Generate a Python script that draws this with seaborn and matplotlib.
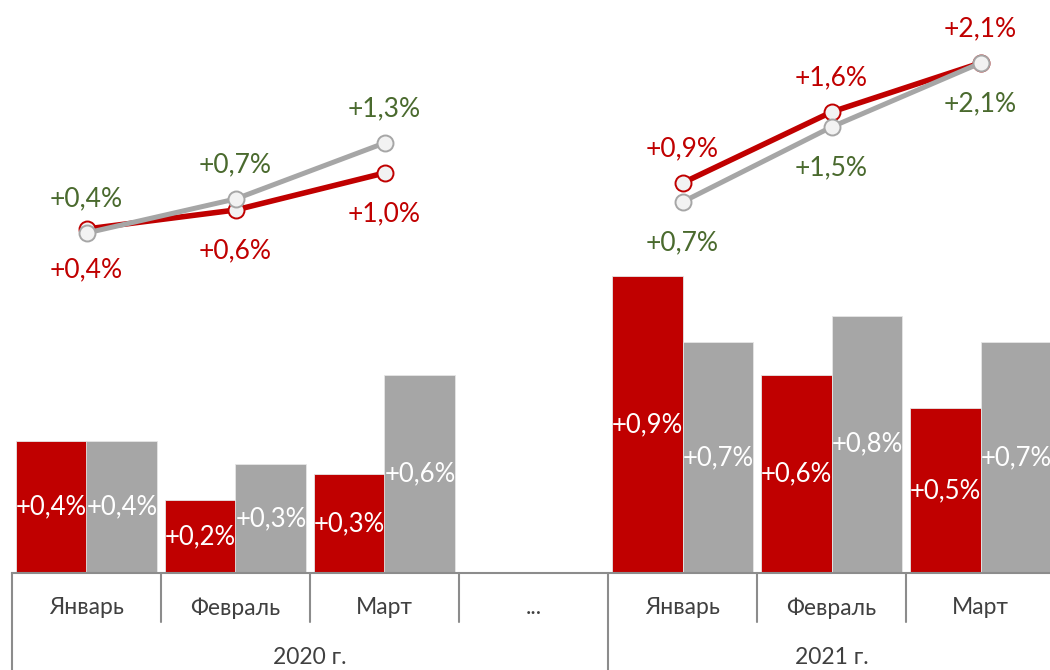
import numpy as np
import pandas as pd
import seaborn as sns
import matplotlib.pyplot as plt
from matplotlib import transforms

# slots along the x axis (the '...' slot separates the two years)
slots = ['2020-01', '2020-02', '2020-03', 'gap', '2021-01', '2021-02', '2021-03']
months = ['Январь', 'Февраль', 'Март', '...', 'Январь', 'Февраль', 'Март']
slot_year = ['2020 г.', '2020 г.', '2020 г.', '2020 г.', '2021 г.', '2021 г.', '2021 г.']

# monthly change (bars)
bar_red = [0.40, 0.22, 0.30, np.nan, 0.90, 0.60, 0.50]
bar_grey = [0.40, 0.33, 0.60, np.nan, 0.70, 0.78, 0.70]
bar_red_lbl = ['+0,4%', '+0,2%', '+0,3%', '', '+0,9%', '+0,6%', '+0,5%']
bar_grey_lbl = ['+0,4%', '+0,3%', '+0,6%', '', '+0,7%', '+0,8%', '+0,7%']

# cumulative change since start of year (lines)
cum_red = [0.44, 0.63, 1.00, np.nan, 0.90, 1.61, 2.10]
cum_grey = [0.40, 0.74, 1.30, np.nan, 0.71, 1.46, 2.10]
cum_red_lbl = ['+0,4%', '+0,6%', '+1,0%', '', '+0,9%', '+1,6%', '+2,1%']
cum_grey_lbl = ['+0,4%', '+0,7%', '+1,3%', '', '+0,7%', '+1,5%', '+2,1%']
label_above = ['grey', 'grey', 'grey', None, 'red', 'red', 'red']

RED = '#C00000'
GREY = '#A6A6A6'
GREEN = '#4A6A2E'
TXT = '#404040'
RULE = '#8C8C8C'

sns.set_style('white')
plt.rcParams['font.family'] = ['Lato', 'DejaVu Sans']

bars = pd.DataFrame({
  'slot': slots * 2,
  'value': bar_red + bar_grey,
  'series': ['red'] * len(slots) + ['grey'] * len(slots),
})
pos = list(range(len(slots)))
lines = pd.DataFrame({
  'pos': pos * 2,
  'value': cum_red + cum_grey,
  'series': ['red'] * len(slots) + ['grey'] * len(slots),
  'year': slot_year * 2,
}).dropna()

W, H = 1050, 670
fig = plt.figure(figsize=(W / 100, H / 100), dpi=100)
ax = fig.add_axes([12 / W, 97 / H, 1043 / W, 573 / H])

sns.barplot(data=bars, x='slot', y='value', hue='series', order=slots,
            hue_order=['red', 'grey'], palette={'red': RED, 'grey': GREY},
            width=0.95, saturation=1, legend=False, ax=ax,
            edgecolor='#E6E6E6', linewidth=0.6)

for cont, lbls in zip(ax.containers, [bar_red_lbl, bar_grey_lbl]):
  texts = [lbls[int(round(p.get_x() + p.get_width() / 2))] for p in cont]
  ax.bar_label(cont, labels=texts, label_type='center', color='white', fontsize=18.5)

ax2 = ax.twinx()
for name, colour, lw in [('red', RED, 4.0), ('grey', GREY, 3.6)]:
  sns.lineplot(data=lines[lines['series'] == name], x='pos', y='value',
               units='year', estimator=None, color=colour, lw=lw,
               marker='o', markersize=11.5, markerfacecolor='#F2F2F2',
               markeredgecolor=colour, markeredgewidth=1.4, ax=ax2, legend=False)

for name, vals, lbls, colour in [('red', cum_red, cum_red_lbl, RED),
                                 ('grey', cum_grey, cum_grey_lbl, GREEN)]:
  for i, (v, t) in enumerate(zip(vals, lbls)):
    if np.isnan(v): continue
    dy = 24.5 if label_above[i] == name else -29.5
    ax2.annotate(t, (i, v), xytext=(0, dy), textcoords='offset points',
                 ha='center', va='center', fontsize=19, color=colour)

ax.set_xlim(-0.5, len(slots) - 0.5)
ax.set_ylim(0, 573 / 330)
ax2.set_ylim(-3.0, 2.73)

for a in (ax, ax2):
  a.set_xlabel('')
  a.set_ylabel('')
  a.set_yticks([])
  a.set_xticks([])
  for s in a.spines.values():
    s.set_visible(False)
ax.spines['bottom'].set_visible(True)
ax.spines['bottom'].set_color(RULE)
ax.spines['bottom'].set_linewidth(1.5)

# category table below the axis
trans = transforms.blended_transform_factory(ax.transData, ax.transAxes)
for k in range(len(slots) + 1):
  new_year = k == 0 or (k < len(slots) and slot_year[k] != slot_year[k - 1])
  y1 = -97 / 573 if new_year else -49 / 573
  ax.plot([k - 0.5, k - 0.5], [0, y1], color=RULE, lw=1.5, transform=trans, clip_on=False)

for i, m in enumerate(months):
  ax.text(i, -35 / 573, m, ha='center', va='center', fontsize=16.5, color=TXT, transform=trans)

for yr in dict.fromkeys(slot_year):
  idx = [i for i, y in enumerate(slot_year) if y == yr]
  ax.text(np.mean(idx), -84 / 573, yr, ha='center', va='center', fontsize=16.5,
          color=TXT, transform=trans)

plt.savefig('out.png', dpi=100)
